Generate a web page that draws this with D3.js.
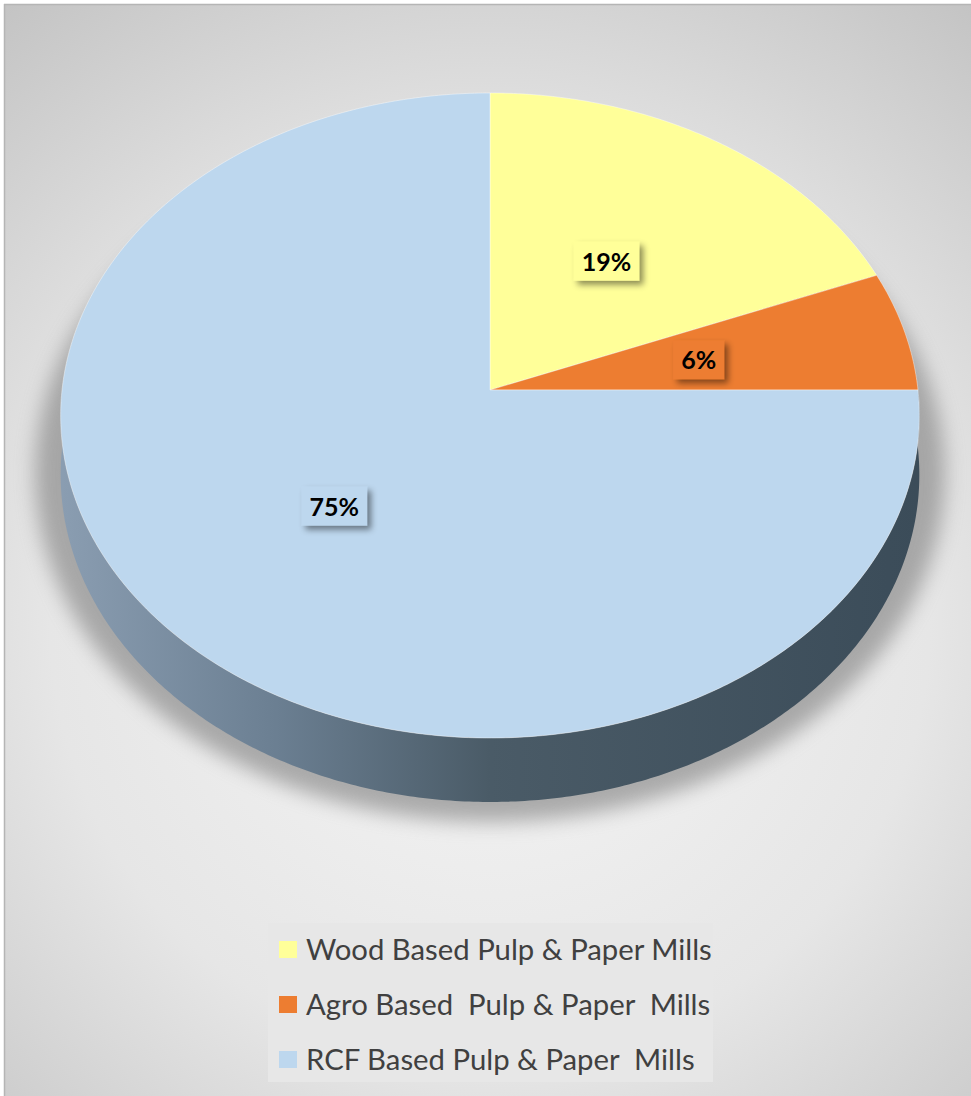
<!DOCTYPE html>
<html>
<head>
<meta charset="utf-8">
<script src="https://cdn.jsdelivr.net/npm/d3@7/dist/d3.min.js"></script>
<style>
  html, body { margin: 0; padding: 0; background: #ffffff; }
  svg { display: block; }
</style>
</head>
<body>
<svg id="chart" width="971" height="1096"></svg>
<script>
// Share of pulp & paper mills by raw material
const categories = ["Wood Based Pulp & Paper Mills", "Agro Based  Pulp & Paper  Mills", "RCF Based Pulp & Paper  Mills"];
const shares = [19, 6, 75];
const valueLabels = ["19%", "6%", "75%"];
const colors = ["#ffff99", "#ed7d31", "#bdd7ee"];

const W = 971, H = 1096;
const svg = d3.select("#chart");
const defs = svg.append("defs");

// Background panel
const bg = defs.append("radialGradient").attr("id", "bgGrad")
  .attr("gradientUnits", "userSpaceOnUse")
  .attr("cx", 490).attr("cy", 620).attr("r", 800);
bg.append("stop").attr("offset", 0).attr("stop-color", "#f6f6f6");
bg.append("stop").attr("offset", 0.55).attr("stop-color", "#e6e6e6");
bg.append("stop").attr("offset", 1).attr("stop-color", "#c2c2c2");

svg.append("rect").attr("x", 4).attr("y", 4).attr("width", W - 4).attr("height", H - 4)
  .attr("fill", "url(#bgGrad)");
svg.append("line").attr("x1", 4.5).attr("x2", 4.5).attr("y1", 4).attr("y2", H).attr("stroke", "#b5b5b5").attr("stroke-width", 1.5);
svg.append("line").attr("x1", 4).attr("x2", W).attr("y1", 4.5).attr("y2", 4.5).attr("stroke", "#b5b5b5").attr("stroke-width", 1.5);

// Perspective projection of the pie disc
const cx = 490, cy = 390;      // projected disc centre
const A = 428, B = 320.5;      // horizontal / depth radii
const k = 0.0791;              // perspective strength
const D = 58.9;                // thickness of the disc
function proj(u, v) {
  const w = 1 - k * v;
  return [cx + A * u / w, cy + B * v / w];
}
function projDown(u, v) {
  const w = 1 - k * v;
  return [cx + A * u / w, cy + B * v / w + D / w];
}
// angle measured clockwise from 12 o'clock
const rim = (a, r = 1) => [r * Math.sin(a), -r * Math.cos(a)];

const pie = d3.pie().sort(null).value(d => d)(shares);
const line = d3.line();

function arcPoints(a0, a1, f) {
  const n = Math.max(2, Math.ceil(Math.abs(a1 - a0) / 0.01));
  return d3.range(n + 1).map(i => {
    const a = a0 + (a1 - a0) * i / n;
    const [u, v] = rim(a);
    return f(u, v);
  });
}

// Drop shadow under the disc
defs.append("filter").attr("id", "pieShadow").attr("x", "-20%").attr("y", "-20%").attr("width", "140%").attr("height", "140%")
  .append("feGaussianBlur").attr("stdDeviation", 10);
svg.append("ellipse").attr("cx", 490).attr("cy", 474).attr("rx", 455).attr("ry", 348)
  .attr("fill", "#808080").attr("opacity", 0.62).attr("filter", "url(#pieShadow)");

// Side wall gradient
const side = defs.append("linearGradient").attr("id", "sideGrad")
  .attr("gradientUnits", "userSpaceOnUse").attr("x1", 62).attr("x2", 918).attr("y1", 0).attr("y2", 0);
side.append("stop").attr("offset", 0).attr("stop-color", "#8a9db1");
side.append("stop").attr("offset", 0.25).attr("stop-color", "#6b7f92");
side.append("stop").attr("offset", 0.5).attr("stop-color", "#4a5b67");
side.append("stop").attr("offset", 1).attr("stop-color", "#3b4c59");

const gPie = svg.append("g");
pie.forEach((d, i) => {
  const a0 = Math.max(d.startAngle, Math.PI / 2);
  const a1 = Math.min(d.endAngle, 3 * Math.PI / 2);
  if (a1 <= a0) return;
  const top = arcPoints(a0, a1, proj);
  const bottom = arcPoints(a1, a0, projDown);
  gPie.append("path").attr("d", line(top.concat(bottom)) + "Z")
    .attr("fill", "url(#sideGrad)");
});

// Top face
pie.forEach((d, i) => {
  const pts = [proj(0, 0)].concat(arcPoints(d.startAngle, d.endAngle, proj));
  gPie.append("path").attr("d", line(pts) + "Z")
    .attr("fill", colors[i])
    .attr("stroke", "#ffffff").attr("stroke-opacity", 0.5).attr("stroke-width", 0.8)
    .attr("stroke-linejoin", "round");
});

// Value labels
const lblShadow = defs.append("filter").attr("id", "lblShadow")
  .attr("x", "-30%").attr("y", "-30%").attr("width", "170%").attr("height", "180%");
lblShadow.append("feDropShadow").attr("dx", 4).attr("dy", 4).attr("stdDeviation", 3)
  .attr("flood-color", "#000").attr("flood-opacity", 0.45);

pie.forEach((d, i) => {
  const mid = (d.startAngle + d.endAngle) / 2;
  const [u, v] = rim(mid, 0.5);
  const [x, y] = proj(u, v);
  const g = svg.append("g").attr("transform", `translate(${x},${y})`);
  const box = g.append("rect").attr("fill", colors[i]).attr("filter", "url(#lblShadow)");
  const t = g.append("text").text(valueLabels[i])
    .attr("text-anchor", "middle").attr("dy", "0.36em")
    .attr("font-family", "Lato, 'Open Sans', sans-serif").attr("font-weight", 700)
    .attr("font-size", 25).attr("fill", "#000");
  const tw = t.node().getComputedTextLength();
  box.attr("x", -tw / 2 - 8).attr("y", -20).attr("width", tw + 16).attr("height", 39);
});

// Legend
const legend = svg.append("g");
legend.append("rect").attr("x", 268).attr("y", 923).attr("width", 445).attr("height", 159).attr("fill", "#e7e7e7");
const rowY = d3.scalePoint().domain(categories).range([949.5, 1059.5]);
categories.forEach((c, i) => {
  const y = rowY(c);
  legend.append("rect").attr("x", 279).attr("y", y - 8.5).attr("width", 18).attr("height", 17).attr("fill", colors[i]);
  legend.append("text").text(c)
    .attr("x", 306).attr("y", y).attr("dy", "0.35em")
    .attr("xml:space", "preserve").style("white-space", "pre")
    .attr("font-family", "Lato, 'Open Sans', sans-serif").attr("font-size", 28)
    .attr("fill", "#404040");
});
// Size legend text so the first entry spans its measured width
const first = legend.select("text").node();
const fs = 28 * 406 / first.getComputedTextLength();
legend.selectAll("text").attr("font-size", fs);
</script>
</body>
</html>
